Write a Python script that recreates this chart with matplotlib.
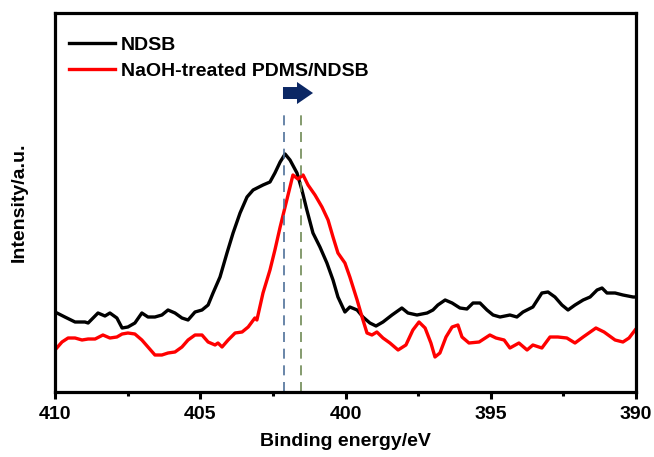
import matplotlib
matplotlib.use("Agg")
import matplotlib.pyplot as plt
from matplotlib.patches import Polygon
from matplotlib.ticker import MultipleLocator

plt.rcParams['font.family'] = ['Liberation Sans', 'DejaVu Sans']
plt.rcParams['font.weight'] = 'bold'

# ---- data (binding energy in eV, intensity in a.u.) ----
ndsb_energy = [410.00, 409.66, 409.31, 408.97, 408.86, 408.52, 408.28, 408.11, 407.87, 407.69,
               407.49, 407.25, 407.01, 406.80, 406.56, 406.32, 406.11, 405.87, 405.63, 405.42,
               405.18, 404.94, 404.73, 404.56, 404.32, 404.08, 403.87, 403.63, 403.39, 403.18,
               402.84, 402.60, 402.43, 402.25, 402.08, 401.91, 401.67, 401.50, 401.33, 401.12,
               400.88, 400.64, 400.43, 400.26, 400.02, 399.85, 399.60, 399.40, 399.16, 398.95,
               398.71, 398.40, 398.06, 397.85, 397.54, 397.19, 396.99, 396.82, 396.57, 396.33,
               396.06, 395.82, 395.61, 395.37, 395.13, 394.92, 394.68, 394.34, 394.10, 393.89,
               393.55, 393.24, 393.03, 392.79, 392.55, 392.34, 392.10, 391.82, 391.58, 391.34,
               391.17, 391.00, 390.72, 390.45, 390.10, 390.00]
ndsb_intensity = [80, 75, 70, 70, 69, 79, 76, 79, 74, 64,
                  65, 69, 79, 75, 75, 77, 82, 79, 74, 72,
                  80, 82, 87, 99, 115, 139, 159, 179, 195, 202,
                  207, 210, 219, 230, 238, 232, 219, 202, 182, 159,
                  145, 129, 112, 95, 80, 85, 82, 75, 69, 66,
                  70, 77, 84, 79, 77, 79, 82, 87, 92, 89,
                  84, 83, 89, 89, 82, 77, 75, 77, 75, 80,
                  85, 99, 100, 95, 87, 82, 87, 92, 95, 102,
                  104, 99, 99, 97, 95, 95]

treated_energy = [410.00, 409.76, 409.55, 409.31, 409.07, 408.86, 408.62, 408.35, 408.11, 407.87,
                  407.69, 407.49, 407.25, 407.01, 406.80, 406.56, 406.32, 406.11, 405.87, 405.63,
                  405.42, 405.18, 404.94, 404.73, 404.49, 404.39, 404.25, 404.04, 403.80, 403.56,
                  403.35, 403.12, 403.05, 402.84, 402.60, 402.43, 402.25, 402.08, 401.91, 401.81,
                  401.64, 401.46, 401.29, 401.05, 400.81, 400.60, 400.43, 400.26, 400.02, 399.85,
                  399.60, 399.43, 399.26, 399.09, 398.92, 398.71, 398.47, 398.19, 397.92, 397.68,
                  397.47, 397.26, 397.06, 396.92, 396.75, 396.54, 396.33, 396.13, 395.99, 395.75,
                  395.40, 395.03, 394.82, 394.54, 394.34, 394.03, 393.75, 393.55, 393.24, 392.96,
                  392.69, 392.38, 392.10, 391.82, 391.38, 391.10, 390.72, 390.45, 390.24, 390.03]
treated_intensity = [42, 50, 54, 54, 52, 53, 53, 57, 54, 55,
                     58, 59, 58, 52, 45, 37, 37, 39, 40, 45,
                     52, 57, 57, 50, 47, 49, 45, 52, 59, 60,
                     65, 74, 72, 99, 122, 142, 165, 185, 205, 217,
                     213, 217, 207, 197, 185, 172, 155, 139, 129, 115,
                     92, 75, 59, 57, 60, 54, 49, 42, 47, 62,
                     70, 64, 49, 35, 39, 55, 65, 67, 55, 49,
                     50, 57, 54, 52, 44, 49, 42, 47, 44, 55,
                     55, 54, 49, 55, 64, 60, 52, 50, 54, 62]

peak_positions = [402.12, 401.53]
peak_colors = ['#4f7199', '#6f8a55']
dash_top = 279

series_labels = ['NDSB', 'NaOH-treated PDMS/NDSB']
xticks = [410, 405, 400, 395, 390]

# ---- figure ----
fig = plt.figure(figsize=(6.54, 4.57), dpi=100)
ax = fig.add_axes([55/654, 65/457, 581/654, 379/457])

ax.plot(ndsb_energy, ndsb_intensity, color='black', lw=2.4, label=series_labels[0])
ax.plot(treated_energy, treated_intensity, color='#ff0000', lw=2.4, label=series_labels[1])

for xp, c in zip(peak_positions, peak_colors):
    ax.plot([xp, xp], [0, dash_top], color=c, lw=1.2, dashes=(6, 4))

# shift arrow (axes fraction coordinates)
arrow_pts = [(0.3924, 0.8047), (0.4165, 0.8047), (0.4165, 0.8180), (0.4441, 0.7889),
             (0.4165, 0.7598), (0.4165, 0.7731), (0.3924, 0.7731)]
ax.add_patch(Polygon(arrow_pts, closed=True, transform=ax.transAxes,
                     facecolor='#0b2764', edgecolor='none'))

ax.set_xlim(410, 390)
ax.set_ylim(0, 379)
ax.set_xticks(xticks)
ax.set_xticklabels([str(t) for t in xticks])
ax.xaxis.set_minor_locator(MultipleLocator(2.5))
ax.set_yticks([])

for s in ax.spines.values():
    s.set_linewidth(2.3)

ax.tick_params(axis='x', which='major', direction='out', length=5, width=2.2,
               labelsize=14, pad=5)
ax.tick_params(axis='x', which='minor', direction='out', length=3, width=2.2)
for lab in ax.get_xticklabels():
    lab.set_fontweight('bold')

ax.set_xlabel('Binding energy/eV', fontsize=14, fontweight='bold', labelpad=7)
ax.set_ylabel('Intensity/a.u.', fontsize=14, fontweight='bold')
ax.yaxis.set_label_coords(-0.047, 0.5)

leg = ax.legend(loc='upper left', bbox_to_anchor=(0.0, 0.975), frameon=False,
                prop={'size': 14, 'weight': 'bold'}, handlelength=2.4,
                handletextpad=0.3, labelspacing=0.45, borderaxespad=0.3)

fig.savefig('out.png', dpi=100)
